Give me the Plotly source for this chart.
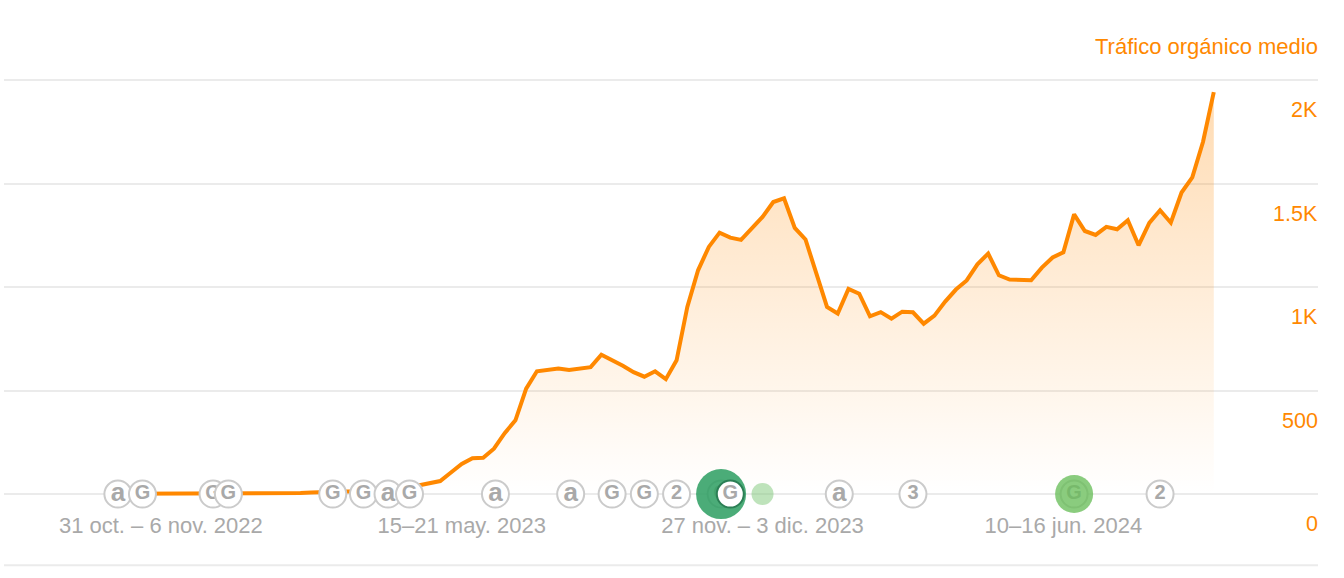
import pandas as pd
import plotly.graph_objects as go

# Weekly average organic traffic
WEEK_START = "2022-10-03"
traffic = [
    1, 1, 1, 1, 1, 1, 1, 1, 1, 1, 2, 2, 2, 2, 3, 3, 4, 5, 7, 10,
    12, 12, 12, 13, 15, 17, 21, 31, 41, 50,
    63, 104, 145, 173, 175, 219, 294, 356, 509, 593,
    601, 607, 599, 606, 613, 673, 649, 620, 589, 567,
    593, 555, 646, 904, 1081, 1194, 1263, 1239, 1228, 1284,
    1339, 1411, 1429, 1286, 1230, 1067, 904, 872, 991, 968,
    859, 879, 847, 881, 878, 823, 862, 930, 988, 1032,
    1110, 1162, 1057, 1036, 1036, 1033, 1094, 1143, 1168, 1351,
    1271, 1252, 1291, 1279, 1323, 1202, 1310, 1371, 1311, 1457,
    1530, 1702, 1942,
]

tick_dates = ["2022-10-31", "2023-05-15", "2023-11-27", "2024-06-10"]
tick_labels = ["31 oct. – 6 nov. 2022", "15–21 may. 2023", "27 nov. – 3 dic. 2023", "10–16 jun. 2024"]

y_ticks = [0, 500, 1000, 1500, 2000]
y_labels = ["0", "500", "1K", "1.5K", "2K"]

# Event badges along the baseline
event_dates = [
    "2022-10-03", "2022-10-19", "2022-12-04", "2022-12-14", "2023-02-20", "2023-03-12",
    "2023-03-28", "2023-04-11", "2023-06-06", "2023-07-25", "2023-08-21", "2023-09-11",
    "2023-10-02", "2023-10-31", "2024-01-16", "2024-03-04", "2024-06-17", "2024-08-12",
]
event_marks = ["a", "G", "G", "G", "G", "G", "a", "G", "a", "a", "G", "G", "2", "G", "a", "3", "G", "2"]
top_event_date = "2023-11-06"
top_event_mark = "G"

# Highlighted updates: date, diameter and colour
halo_dates = ["2023-10-31", "2023-11-27", "2024-06-17"]
halo_sizes = [50, 22, 38]
halo_colors = ["rgba(48,160,100,0.87)", "rgba(125,200,120,0.5)", "rgba(105,190,90,0.78)"]

ORANGE = "#ff8800"
GREY = "#a9a9a9"
GRID = "#ebebeb"
FONT = "Liberation Sans"

weeks = pd.date_range(WEEK_START, periods=len(traffic), freq="7D")
start = pd.Timestamp(WEEK_START)
x_range = [start - pd.Timedelta(days=7 * 10.6), start + pd.Timedelta(days=7 * 111.7)]


def badge(date, mark, ring="#cbcbcb"):
    # One trace per badge, so a later disc covers the letter of the one before it
    return go.Scatter(
        x=[date], y=[0], mode="markers+text", text=[mark],
        textposition="middle center", cliponaxis=False, hoverinfo="skip", showlegend=False,
        textfont=dict(family=FONT, size=26 if mark == "a" else 20, color=GREY, weight="bold"),
        marker=dict(size=27, color="white", opacity=1, line=dict(color=ring, width=2)),
    )


fig = go.Figure()
fig.add_trace(go.Scatter(
    x=weeks, y=traffic, mode="lines", showlegend=False, cliponaxis=False,
    line=dict(color=ORANGE, width=4, shape="linear"),
    fill="tozeroy", fillcolor="rgba(255,136,0,0.15)",
    fillgradient=dict(
        type="vertical",
        colorscale=[[0, "rgba(255,136,0,0)"], [1, "rgba(255,136,0,0.3)"]],
    ),
))
for date, mark in zip(event_dates, event_marks):
    fig.add_trace(badge(date, mark))
fig.add_trace(go.Scatter(
    x=halo_dates, y=[0] * len(halo_dates), mode="markers", hoverinfo="skip",
    showlegend=False, cliponaxis=False,
    marker=dict(size=halo_sizes, color=halo_colors, opacity=1, line=dict(width=0)),
))
fig.add_trace(badge(top_event_date, top_event_mark, ring="#2c7f55"))

# Value labels sit below their gridlines, flush with the right edge
annotations = [
    dict(x=1, xref="paper", y=v, yref="y", yshift=-30, xshift=2, text=t, showarrow=False,
         xanchor="right", yanchor="middle", font=dict(family=FONT, size=21.5, color=ORANGE))
    for v, t in zip(y_ticks, y_labels)
]
annotations.append(dict(
    x=1, xref="paper", y=2000, yref="y", yshift=34, xshift=2, text="Tráfico orgánico medio",
    showarrow=False, xanchor="right", yanchor="middle",
    font=dict(family=FONT, size=22, color=ORANGE),
))

fig.update_layout(
    width=1344, height=578, paper_bgcolor="white", plot_bgcolor="white",
    margin=dict(l=4, r=26, t=60, b=68, autoexpand=False),
    font=dict(family=FONT),
    showlegend=False,
    annotations=annotations,
    shapes=[dict(type="line", xref="paper", yref="paper", x0=0, x1=1, y0=-0.123, y1=-0.123,
                 line=dict(color=GRID, width=2))],
    xaxis=dict(
        type="date", range=x_range, showgrid=False, zeroline=False, showline=False, ticks="",
        tickmode="array", tickvals=tick_dates, ticktext=tick_labels,
        tickfont=dict(family=FONT, size=22, color=GREY), automargin=False,
    ),
    yaxis=dict(
        range=[-77, 2097], tickvals=y_ticks, showticklabels=False, zeroline=False,
        showgrid=True, gridcolor=GRID, gridwidth=2, showline=False, ticks="", automargin=False,
    ),
)

fig.write_html("out.html", config=dict(displayModeBar=False))
